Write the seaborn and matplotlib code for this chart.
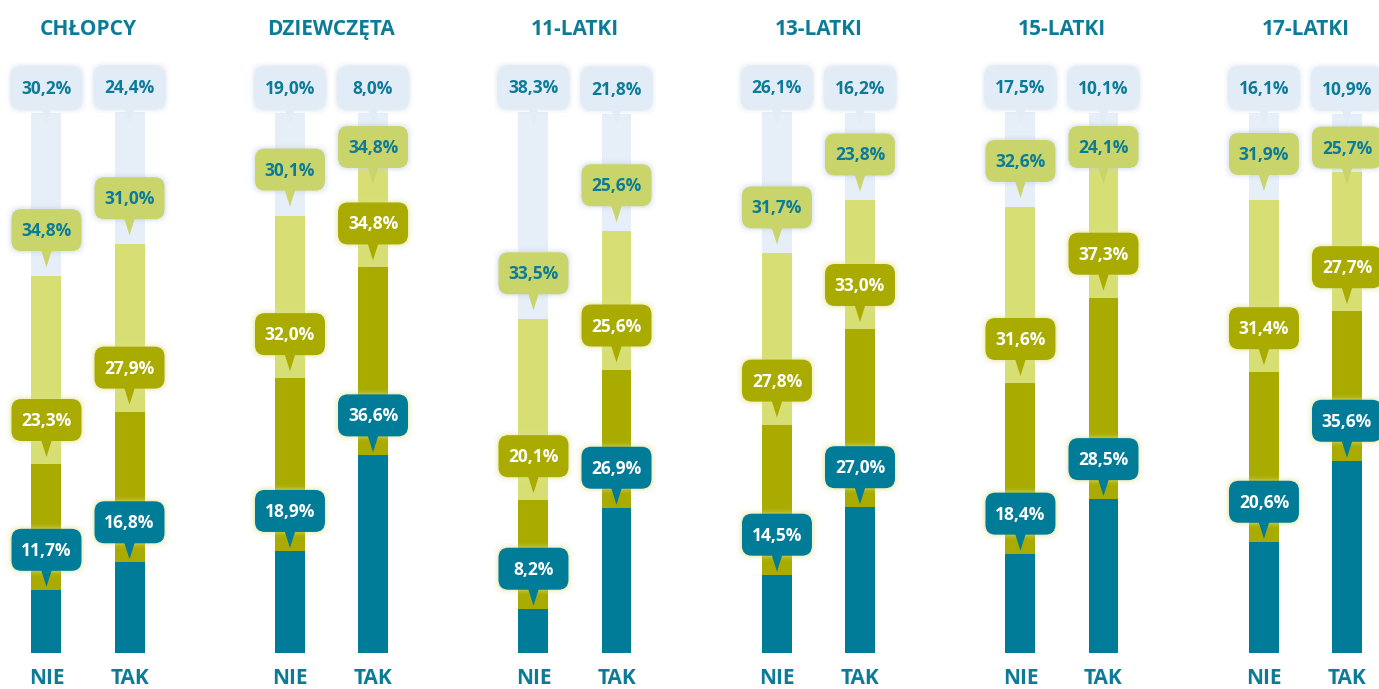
import pandas as pd
import seaborn as sns
import matplotlib.pyplot as plt
from matplotlib.patches import FancyBboxPatch, Polygon
from matplotlib.transforms import IdentityTransform

# data, segments from bottom (1) to top (4)
groups = ["CHŁOPCY", "DZIEWCZĘTA", "11-LATKI", "13-LATKI", "15-LATKI", "17-LATKI"]
answers = ["NIE", "TAK"]
seg1_nie = [11.7, 18.9, 8.2, 14.5, 18.4, 20.6]
seg1_tak = [16.8, 36.6, 26.9, 27.0, 28.5, 35.6]
seg2_nie = [23.3, 32.0, 20.1, 27.8, 31.6, 31.4]
seg2_tak = [27.9, 34.8, 25.6, 33.0, 37.3, 27.7]
seg3_nie = [34.8, 30.1, 33.5, 31.7, 32.6, 31.9]
seg3_tak = [31.0, 20.6, 25.6, 23.8, 24.1, 25.7]
seg4_nie = [30.2, 19.0, 38.3, 26.1, 17.5, 16.1]
seg4_tak = [24.4, 8.0, 21.8, 16.2, 10.1, 10.9]
# the printed label on this one bar piece says 34,8% although the bar is ~20,6%
label_override = {("DZIEWCZĘTA", "TAK", 3): "34,8%"}

bar_colors = {1: "#007C99", 2: "#AAAB00", 3: "#D7DF74", 4: "#E6EEF8"}
box_colors = {1: "#007C99", 2: "#AAAB00", 3: "#C9D46B", 4: "#E2ECF7"}
text_colors = {1: "white", 2: "white", 3: "#0B7B97", 4: "#0B7B97"}
glow_colors = {1: "#DDE38A", 2: "#DDE38A", 3: "#C5D3E6", 4: "#C5D3E6"}
tip_lift = {1: 3, 2: 7, 3: 9, 4: -12}  # pixels
teal = "#0B7B97"

rows = []
lists = {(1, "NIE"): seg1_nie, (1, "TAK"): seg1_tak, (2, "NIE"): seg2_nie, (2, "TAK"): seg2_tak,
         (3, "NIE"): seg3_nie, (3, "TAK"): seg3_tak, (4, "NIE"): seg4_nie, (4, "TAK"): seg4_tak}
for (seg, ans), vals in lists.items():
    for g, v in zip(groups, vals):
        rows.append({"group": g, "answer": ans, "segment": seg, "value": v})
df = pd.DataFrame(rows).sort_values(["group", "answer", "segment"])
df["cum"] = df.groupby(["group", "answer"])["value"].cumsum()

plt.rcParams["font.family"] = ["Open Sans", "DejaVu Sans"]
fig = plt.figure(figsize=(13.79, 6.89), dpi=100)
ax = fig.add_axes([0, 0, 1, 1])

width = 0.682
gap = 0.639
# stacked bars: draw cumulative totals from the top piece down
for seg in [4, 3, 2, 1]:
    sub = df[df["segment"] == seg]
    c = bar_colors[seg]
    sns.barplot(data=sub, x="group", y="cum", hue="answer", order=groups, hue_order=answers,
                palette={"NIE": c, "TAK": c}, saturation=1, width=width, gap=gap, linewidth=0,
                errorbar=None, legend=False, ax=ax)

ax.set_xlim(-0.3614, 5.302)
ax.set_ylim(-6.667, 120.93)
ax.axis("off")

# group titles and NIE / TAK labels
for i, g in enumerate(groups):
    ax.text(i, 114.44, g, ha="center", va="baseline", fontsize=15, fontweight="bold", color=teal)
    for k, ans in enumerate(answers):
        xpos = i + (-1 if k == 0 else 1) * width / 4
        ax.text(xpos, -5.75, ans, ha="center", va="baseline", fontsize=15, fontweight="bold", color=teal)

# callouts, top piece first; a lower callout is pushed down if it would hit the one above
ident = IdentityTransform()
prev_tip = {}
for seg in [4, 3, 2, 1]:
    z = 10 + (4 - seg) * 4
    for _, r in df[df["segment"] == seg].iterrows():
        i = groups.index(r["group"])
        key = (r["group"], r["answer"])
        xpos = i + (-1 if r["answer"] == "NIE" else 1) * width / 4
        tx, ty = ax.transData.transform((xpos, r["cum"]))
        ty += tip_lift[seg]
        if key in prev_tip:
            ty = min(ty, prev_tip[key] - 59)
        prev_tip[key] = ty
        bx, by, bw, bh = tx - 35, ty + 16, 70, 42
        for pad, a in [(5, 0.08), (3, 0.15), (1.5, 0.25)]:
            ax.add_patch(FancyBboxPatch((bx - pad, by - pad), bw + 2 * pad, bh + 2 * pad,
                                        boxstyle="round,pad=0,rounding_size=12", linewidth=0,
                                        facecolor=glow_colors[seg], alpha=a, transform=ident,
                                        zorder=z, clip_on=False))
        ax.add_patch(Polygon([(tx, ty), (tx - 6, ty + 19), (tx + 6, ty + 19)], closed=True,
                             facecolor=box_colors[seg], linewidth=0, transform=ident,
                             zorder=z + 1, clip_on=False))
        ax.add_patch(FancyBboxPatch((bx, by), bw, bh, boxstyle="round,pad=0,rounding_size=10",
                                    linewidth=0, facecolor=box_colors[seg], transform=ident,
                                    zorder=z + 2, clip_on=False))
        label = label_override.get((r["group"], r["answer"], seg),
                                   f"{r['value']:.1f}%".replace(".", ","))
        ax.text(tx, by + bh / 2 - 6, label, ha="center", va="baseline", fontsize=12.5,
                fontweight="bold", color=text_colors[seg], transform=ident, zorder=z + 3)

fig.savefig("out.png", dpi=100)
